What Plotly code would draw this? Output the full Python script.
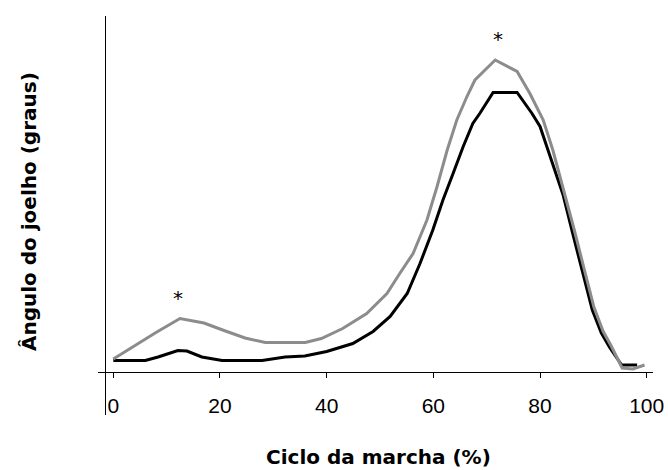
import plotly.graph_objects as go

# Gait cycle (%) and knee angle (degrees)
x_grey = [0, 4, 8, 12.5, 17, 20.5, 24.7, 28.5, 36, 39, 43, 47.5, 51.3, 53.7,
          56.2, 58.8, 60.7, 62.6, 64.4, 66.3, 67.8, 71.6, 75.7, 78.1, 80.6,
          82.4, 84.7, 86.4, 88.3, 90.1, 91.8, 93.3, 95.4, 97.4, 99.6]
y_grey = [2.6, 5.3, 7.9, 10.7, 9.8, 8.4, 6.8, 5.9, 5.9, 6.7, 8.7, 11.7, 15.7, 19.7,
          23.7, 30.4, 37.1, 44.4, 50.4, 55.1, 58.4, 62.4, 60.1, 55.7, 50.4,
          44.4, 35.5, 28.5, 20.5, 13.0, 8.2, 5.3, 0.8, 0.6, 1.4]

x_black = [0, 6, 8.4, 12.1, 13.8, 16.6, 20.4, 27.9, 32.2, 35.9, 40, 44.9, 48.7,
           51.9, 55.1, 57.5, 59.9, 61.8, 63.7, 65.6, 67.4, 68.7, 71.2, 75.7,
           78.5, 80.0, 81.9, 84.3, 86.1, 88.0, 89.8, 91.5, 93.0, 95.3, 98.2]
y_black = [2.3, 2.3, 3.0, 4.3, 4.2, 3.0, 2.3, 2.3, 3.0, 3.2, 4.1, 5.7, 8.1,
           11.1, 15.7, 21.7, 28.4, 34.4, 39.7, 45.1, 49.7, 51.7, 55.9, 55.9,
           51.7, 49.1, 43.1, 35.5, 27.8, 19.8, 12.4, 7.8, 5.0, 1.4, 1.4]

tick_vals = [0, 20, 40, 60, 80, 100]
tick_text = ["0", "20", "40", "60", "80", "100"]

# significance marks (x %, y degrees)
star_x = [12.2, 72.1]
star_y = [14.8, 66.6]

fig = go.Figure()
fig.add_trace(go.Scatter(x=x_black, y=y_black, mode="lines",
                         line=dict(color="#000000", width=3), showlegend=False))
fig.add_trace(go.Scatter(x=x_grey, y=y_grey, mode="lines",
                         line=dict(color="#8c8c8c", width=3), showlegend=False))

annotations = []
for sx, sy in zip(star_x, star_y):
    annotations.append(dict(x=sx, y=sy, xref="x", yref="y", text="*",
                            showarrow=False, xanchor="center", yanchor="middle",
                            font=dict(family="DejaVu Sans", size=20, color="#000000")))
annotations.append(dict(x=0.506, y=-0.105, xref="paper", yref="paper",
                        text="<b>Ciclo da marcha (%)</b>", showarrow=False,
                        xanchor="center", yanchor="middle",
                        font=dict(family="DejaVu Sans", size=20, color="#000000")))
annotations.append(dict(x=-0.124, y=0.509, xref="paper", yref="paper",
                        text="<b>Ângulo do joelho (graus)</b>", showarrow=False,
                        textangle=-90, xanchor="center", yanchor="middle",
                        font=dict(family="DejaVu Sans", size=20, color="#000000")))

fig.update_layout(
    width=668, height=470,
    margin=dict(l=98, r=15, t=16, b=55, autoexpand=False),
    paper_bgcolor="white", plot_bgcolor="white",
    xaxis=dict(range=[-2.87, 101.18], anchor="free", position=0.1078,
               automargin=False,
               showline=True, linecolor="#000000", linewidth=1,
               ticks="outside", ticklen=5, tickcolor="#000000", tickwidth=1,
               tickvals=tick_vals, ticktext=tick_text,
               showgrid=False, zeroline=False, ticklabelstandoff=10,
               tickfont=dict(family="Liberation Sans", size=21, color="#000000")),
    yaxis=dict(range=[-8.6, 71.2], anchor="free", position=0.0126,
               automargin=False,
               showline=True, linecolor="#000000", linewidth=1,
               ticks="", showticklabels=False, showgrid=False, zeroline=False),
    annotations=annotations,
)

fig.write_html("out.html", config={"displayModeBar": False},
               post_script="document.body.style.margin='0';document.body.style.overflow='hidden';")
